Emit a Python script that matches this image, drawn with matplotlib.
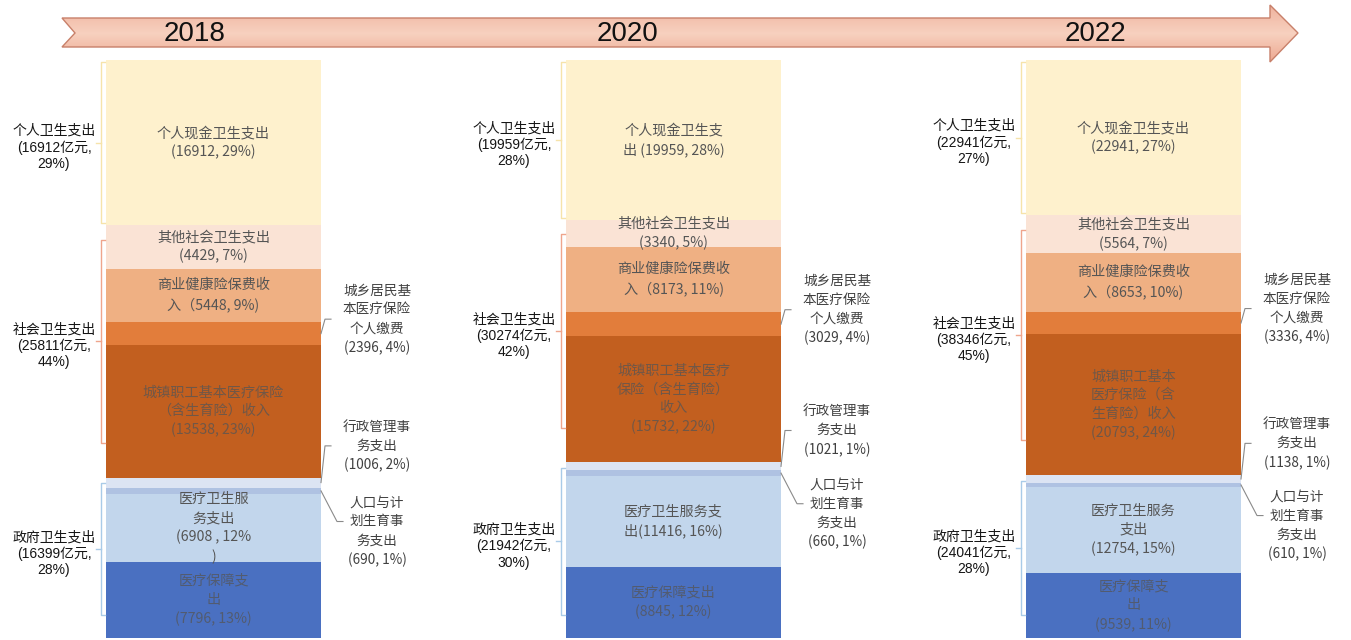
import numpy as np
import matplotlib.pyplot as plt
from matplotlib.patches import Polygon

plt.rcParams['font.family'] = ['Noto Sans CJK SC', 'DejaVu Sans']

years = ['2018', '2020', '2022']

# 卫生总费用构成（亿元）
personal_cash = [16912, 19959, 22941]
other_social = [4429, 3340, 5564]
commercial_insurance = [5448, 8173, 8653]
resident_insurance = [2396, 3029, 3336]
employee_insurance = [13538, 15732, 20793]
admin_affairs = [1006, 1021, 1138]
family_planning = [690, 660, 610]
health_services = [6908, 11416, 12754]
medical_security = [7796, 8845, 9539]

# 各项占比（%）
personal_cash_pct = [29, 28, 27]
other_social_pct = [7, 5, 7]
commercial_pct = [9, 11, 10]
resident_pct = [4, 4, 4]
employee_pct = [23, 22, 24]
admin_pct = [2, 1, 1]
family_planning_pct = [1, 1, 1]
health_services_pct = [12, 16, 15]
medical_security_pct = [13, 12, 11]

# 三大筹资来源
personal_total = [16912, 19959, 22941]
social_total = [25811, 30274, 38346]
government_total = [16399, 21942, 24041]
personal_share = [29, 28, 27]
social_share = [44, 42, 45]
government_share = [28, 30, 28]

# segments from bottom to top: values, pct, colour, per-year label format, dark background
segments = [
    (medical_security, medical_security_pct, '#4A70C1',
     ['医疗保障支\n出\n({v}, {p}%)', '医疗保障支出\n({v}, {p}%)', '医疗保障支\n出\n({v}, {p}%)'], True),
    (health_services, health_services_pct, '#C2D6EC',
     ['医疗卫生服\n务支出\n({v} , {p}%\n)', '医疗卫生服务支\n出({v}, {p}%)', '医疗卫生服务\n支出\n({v}, {p}%)'], False),
    (family_planning, family_planning_pct, '#AFC2E2', None, False),
    (admin_affairs, admin_pct, '#DCE4F3', None, False),
    (employee_insurance, employee_pct, '#C25F1F',
     ['城镇职工基本医疗保险\n（含生育险）收入\n({v}, {p}%)',
      '城镇职工基本医疗\n保险（含生育险）\n收入\n({v}, {p}%)',
      '城镇职工基本\n医疗保险（含\n生育险）收入\n({v}, {p}%)'], True),
    (resident_insurance, resident_pct, '#E27D3B', None, False),
    (commercial_insurance, commercial_pct, '#EFB083',
     ['商业健康险保费收\n入（{v}, {p}%)'] * 3, False),
    (other_social, other_social_pct, '#FAE3D5',
     ['其他社会卫生支出\n({v}, {p}%)'] * 3, False),
    (personal_cash, personal_cash_pct, '#FEF1CD',
     ['个人现金卫生支出\n({v}, {p}%)', '个人现金卫生支\n出 ({v}, {p}%)', '个人现金卫生支出\n({v}, {p}%)'], False),
]


def py(row):
    """Pixel row of the 1351x640 canvas -> share axis (column top = 1)."""
    return (638 - row) / 578


fig = plt.figure(figsize=(13.51, 6.4), dpi=100)
ax = fig.add_axes([0, 0, 1, 1])

col_x = np.array([213.5, 673.5, 1133.5])
col_w = 215
col_sum = np.sum([s[0] for s in segments], axis=0)

# stacked columns, every column scaled to its own total
bottom = np.zeros(3)
edges = []
for values, pct, color, fmts, dark in segments:
    h = np.array(values) / col_sum
    ax.bar(col_x, h, bottom=bottom, width=col_w, color=color, linewidth=0, zorder=2)
    edges.append((bottom.copy(), bottom + h))
    if fmts:
        for i in range(3):
            ax.text(col_x[i], bottom[i] + h[i] / 2, fmts[i].format(v=values[i], p=pct[i]),
                    ha='center', va='center', fontsize=10.2, linespacing=1.42,
                    color='#555555', alpha=0.75 if dark else 1.0, zorder=3)
    bottom = bottom + h

# timeline arrow
arrow_pts = [(62, 18), (1270, 18), (1270, 5), (1298, 33), (1270, 62),
             (1270, 47), (62, 47), (75, 33)]
arrow = Polygon([(x, py(y)) for x, y in arrow_pts], closed=True,
                facecolor='none', edgecolor='#C8806A', linewidth=1.0, zorder=3)
ax.add_patch(arrow)
grad = np.linspace(0, 1, 64).reshape(-1, 1)
top_c = np.array([0.94, 0.70, 0.62])
mid_c = np.array([0.97, 0.82, 0.75])
low_c = np.array([0.93, 0.66, 0.57])
cols = np.where(grad[..., None] < 0.5,
                top_c + (mid_c - top_c) * (grad[..., None] / 0.5),
                mid_c + (low_c - mid_c) * ((grad[..., None] - 0.5) / 0.5))
img = ax.imshow(cols, extent=(62, 1298, py(62), py(5)), aspect='auto', zorder=2)
img.set_clip_path(arrow)

year_x = [195, 627, 1095]
for x, yr in zip(year_x, years):
    ax.text(x, py(34), yr, ha='center', va='center', fontsize=20,
            family='Liberation Sans', color='#111111', zorder=4)

# brackets with source totals on the left
gov_top = edges[3][1]
soc_top = edges[7][1]
groups = [
    (np.zeros(3), gov_top, (0.010, 0.040), '#A9CBE8', '政府卫生支出', government_total, government_share),
    (gov_top, soc_top, (0.025, 0.060), '#EFA58C', '社会卫生支出', social_total, social_share),
    (soc_top, np.ones(3), (0.004, 0.004), '#F6E3AA', '个人卫生支出', personal_total, personal_share),
]
for lo, hi, (inset_top, inset_bot), color, name, totals, shares in groups:
    for i in range(3):
        bx = col_x[i] - col_w / 2 - 5
        y0 = lo[i] + inset_bot
        y1 = hi[i] - inset_top
        ym = (y0 + y1) / 2
        ax.plot([bx + 4, bx, bx, bx + 4], [y1, y1, y0, y0], color=color, lw=1.0, zorder=3,
                solid_joinstyle='round')
        ax.plot([bx, bx - 5], [ym, ym], color=color, lw=1.0, zorder=3)
        ax.text(bx - 47, ym - 0.008, f'{name}\n({totals[i]}亿元,\n{shares[i]}%)',
                ha='center', va='center', fontsize=10, linespacing=1.2,
                family=['Liberation Sans', 'Noto Sans CJK SC'], color='#151515', zorder=4)

# callouts for the thin segments on the right
callouts = [
    (5, '城乡居民基\n本医疗保险\n个人缴费\n({v}, {p}%)', 0.025, 4, 0.0),
    (3, '行政管理事\n务支出\n({v}, {p}%)', None, 4, 0.0),
    (2, '人口与计\n划生育事\n务支出\n({v}, {p}%)', -0.07, 16, 0.017),
]
for idx, fmt, offset, dx, lift in callouts:
    values, pct = segments[idx][0], segments[idx][1]
    lo, hi = edges[idx]
    for i in range(3):
        rx = col_x[i] + col_w / 2
        mid = (lo[i] + hi[i]) / 2
        if offset is None:
            ly = hi[i] + 0.055
        else:
            ly = mid + offset
        ey = ly + lift
        ax.plot([rx, rx + dx, rx + dx + 6], [mid, ey, ey], color='#8A8A8A', lw=0.8, zorder=3)
        ax.text(rx + 56, ly, fmt.format(v=values[i], p=pct[i]), ha='center', va='center',
                fontsize=9.8, linespacing=1.45, color='#404040', zorder=4)

ax.set_xlim(0, 1351)
ax.set_ylim(py(640), py(0))
ax.axis('off')

fig.savefig('out.png', dpi=100)
